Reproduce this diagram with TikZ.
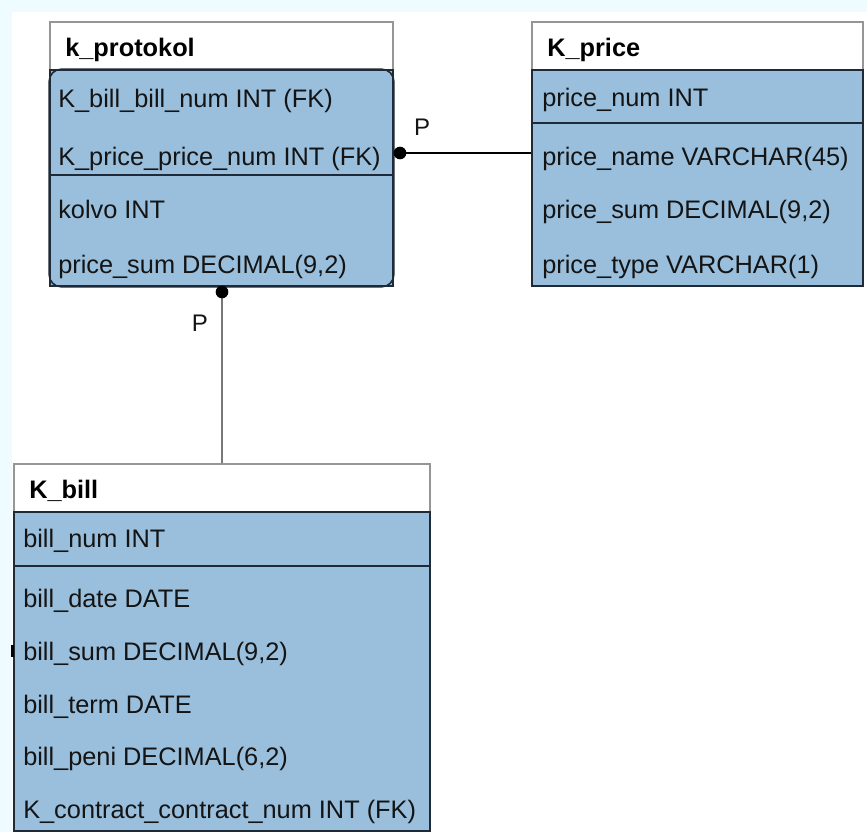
\documentclass[tikz,border=0pt]{standalone}
\usepackage{fontspec}
\setmainfont{Liberation Sans}
\usetikzlibrary{fit}
\definecolor{bgcyan}{RGB}{238,252,255}
\definecolor{tblue}{RGB}{153,191,220}
\definecolor{tdark}{RGB}{30,42,56}
\definecolor{tgrey}{RGB}{150,150,150}
\definecolor{ttext}{RGB}{20,20,20}
\definecolor{lgrey}{RGB}{120,120,120}
\tikzset{
  titlebox/.style={draw=tgrey, fill=white, line width=1.2pt, inner sep=0pt},
  bodybox/.style={draw=tdark, fill=tblue, line width=1.2pt, inner sep=0pt},
  sepline/.style={draw=tdark, line width=1.5pt},
  rowtxt/.style={anchor=base west, inner sep=0pt, text=ttext, font=\fontsize{19}{22}\selectfont},
  ttltxt/.style={anchor=base west, inner sep=0pt, text=black, font=\fontsize{19}{22}\selectfont\bfseries},
  lbl/.style={inner sep=0pt, text=ttext, font=\fontsize{18}{22}\selectfont},
  dotn/.style={circle, fill=black, inner sep=0pt, minimum size=9.5pt},
  conn/.style={draw=black, line width=0.9pt},
  conng/.style={draw=lgrey, line width=1.4pt}
}
\begin{document}
\begin{tikzpicture}[x=0.75pt,y=-0.75pt]
\fill[bgcyan] (0,0) rectangle (867,832);
\fill[white] (12,12) rectangle (867,832);
\useasboundingbox (0,0) rectangle (867,832);

% helper coordinates
\coordinate (y153) at (0,153);
\coordinate (x222) at (222,0);

% ---------- k_protokol ----------
\node[titlebox, fit={(50,22)(393,70)}] (prottitle) {};
\node[bodybox, fit={(50,70)(393,286)}] (protbody) {};
\draw[tdark, line width=1.2pt, rounded corners=9pt] (protbody.south west) rectangle (protbody.north east);
\draw[sepline] (50,175) -- (393,175);
\node[ttltxt] (t1) at (65,56) {k\_protokol};
\node[rowtxt] (p1) at (58,107) {K\_bill\_bill\_num INT (FK)};
\node[rowtxt] (p2) at (58,165) {K\_price\_price\_num INT (FK)};
\node[rowtxt] (p3) at (58,218) {kolvo INT};
\node[rowtxt] (p4) at (58,273) {price\_sum DECIMAL(9,2)};

% ---------- K_price ----------
\node[titlebox, fit={(532,22)(863,70)}] (pricetitle) {};
\node[bodybox, fit={(532,70)(863,286)}] (pricebody) {};
\draw[sepline] (532,123) -- (863,123);
\node[ttltxt] (t2) at (547,56) {K\_price};
\node[rowtxt] (r1) at (542,106) {price\_num INT};
\node[rowtxt] (r2) at (542,165) {price\_name VARCHAR(45)};
\node[rowtxt] (r3) at (542,218) {price\_sum DECIMAL(9,2)};
\node[rowtxt] (r4) at (542,273) {price\_type VARCHAR(1)};

% ---------- K_bill ----------
\node[titlebox, fit={(14,464)(430,512)}] (billtitle) {};
\node[bodybox, fit={(14,512)(430,831)}] (billbody) {};
\draw[sepline] (14,566) -- (430,566);
\node[ttltxt] (t3) at (29,498) {K\_bill};
\node[rowtxt] (b1) at (23,547) {bill\_num INT};
\node[rowtxt] (b2) at (23,607) {bill\_date DATE};
\node[rowtxt] (b3) at (23,660) {bill\_sum DECIMAL(9,2)};
\node[rowtxt] (b4) at (23,713) {bill\_term DATE};
\node[rowtxt] (b5) at (23,765) {bill\_peni DECIMAL(6,2)};
\node[rowtxt] (b6) at (23,818) {K\_contract\_contract\_num INT (FK)};
\fill[black] (11,645) rectangle (14,657);

% ---------- connectors ----------
\draw[conn] (protbody.east |- y153) -- (pricebody.west |- y153);
\node[dotn] (d1) at (400,153) {};
\node[lbl] (l1) at (422,127) {P};

\draw[conng] (protbody.south -| x222) -- (billtitle.north -| x222);
\node[dotn] (d2) at (222,292) {};
\node[lbl] (l2) at (200,323) {P};
\end{tikzpicture}
\end{document}
